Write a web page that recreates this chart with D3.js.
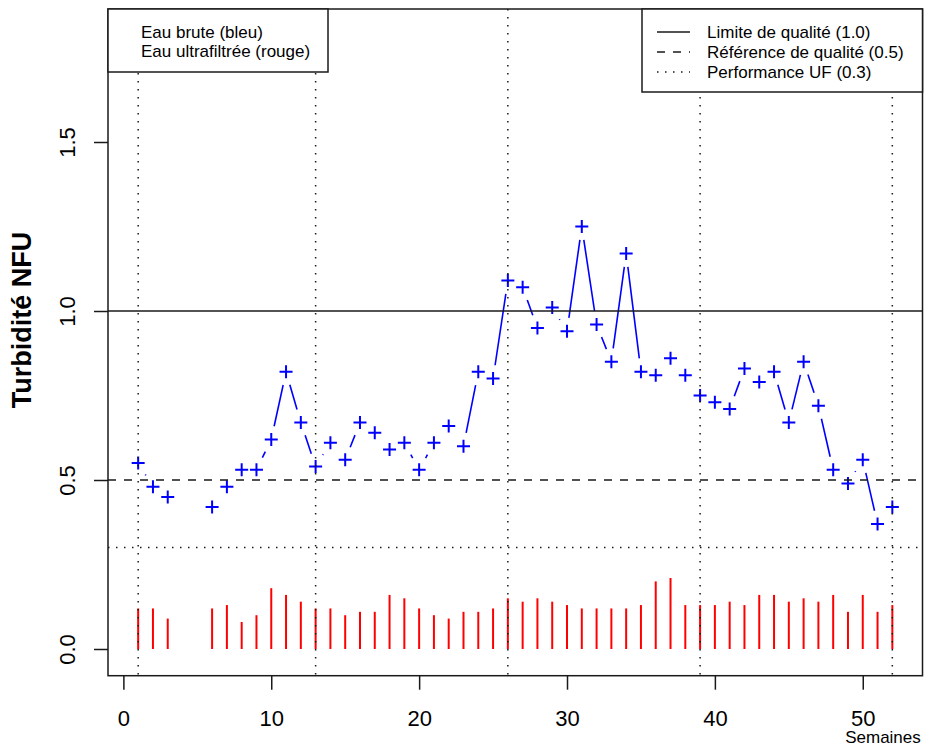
<!DOCTYPE html>
<html>
<head>
<meta charset="utf-8">
<script src="https://cdn.jsdelivr.net/npm/d3@7"></script>
<style>
  html, body { margin: 0; padding: 0; background: #fff; }
  svg { display: block; font-family: "Liberation Sans", Arial, Helvetica, sans-serif; }
</style>
</head>
<body>
<svg id="chart" width="933" height="746"></svg>
<script>
// ---- Data ----
const weeks = d3.range(1, 53);
const rawWater = [0.55, 0.48, 0.45, null, null, 0.42, 0.48, 0.53, 0.53, 0.62,
  0.82, 0.67, 0.54, 0.61, 0.56, 0.67, 0.64, 0.59, 0.61, 0.53,
  0.61, 0.66, 0.60, 0.82, 0.80, 1.09, 1.07, 0.95, 1.01, 0.94,
  1.25, 0.96, 0.85, 1.17, 0.82, 0.81, 0.86, 0.81, 0.75, 0.73,
  0.71, 0.83, 0.79, 0.82, 0.67, 0.85, 0.72, 0.53, 0.49, 0.56,
  0.37, 0.42];
const ufWater = [0.12, 0.12, 0.09, null, null, 0.12, 0.13, 0.08, 0.10, 0.18,
  0.16, 0.14, 0.12, 0.12, 0.10, 0.11, 0.11, 0.16, 0.15, 0.12,
  0.10, 0.09, 0.11, 0.11, 0.12, 0.15, 0.14, 0.15, 0.14, 0.13,
  0.12, 0.12, 0.12, 0.12, 0.13, 0.20, 0.21, 0.13, 0.13, 0.13,
  0.14, 0.13, 0.16, 0.16, 0.14, 0.15, 0.14, 0.16, 0.11, 0.16,
  0.11, 0.13];
const refValues = [1.0, 0.5, 0.3];
const refLabels = ["Limite de qualité (1.0)", "Référence de qualité (0.5)", "Performance UF (0.3)"];
const refDash = [null, "8,8", "1.5,6.5"];
const quarterWeeks = [1, 13, 26, 39, 52];
const xTicks = [0, 10, 20, 30, 40, 50];
const yTicks = [0.0, 0.5, 1.0, 1.5];
const seriesLabels = ["Eau brute (bleu)", "Eau ultrafiltrée (rouge)"];

// ---- Layout ----
const L = 108, R = 922.5, T = 9, B = 675.7;
const svg = d3.select("#chart");
const x = d3.scaleLinear().domain([-1.04, 54.04]).range([L, R]);
const y = d3.scaleLinear().domain([-0.079, 1.8935]).range([B, T]);
const ink = "#1a1a1a";
const ff = "Liberation Sans, Arial, Helvetica, sans-serif";

// Red vertical bars (type h)
const uf = weeks.map((w, i) => ({w, v: ufWater[i]})).filter(d => d.v != null);
svg.append("g").selectAll("line").data(uf).join("line")
  .attr("x1", d => x(d.w)).attr("x2", d => x(d.w))
  .attr("y1", y(0)).attr("y2", d => y(d.v))
  .attr("stroke", "#ff0000").attr("stroke-width", 2);

// Blue type "b": segments with gaps
const raw = weeks.map((w, i) => ({w, v: rawWater[i]}));
const gap = 13.5;
const segs = [];
for (let i = 0; i < raw.length - 1; i++) {
  const a = raw[i], b = raw[i + 1];
  if (a.v == null || b.v == null) continue;
  const x1 = x(a.w), y1 = y(a.v), x2 = x(b.w), y2 = y(b.v);
  const len = Math.hypot(x2 - x1, y2 - y1);
  if (len <= 2 * gap) continue;
  const ux = (x2 - x1) / len, uy = (y2 - y1) / len;
  segs.push({x1: x1 + ux * gap, y1: y1 + uy * gap, x2: x2 - ux * gap, y2: y2 - uy * gap});
}
svg.append("g").selectAll("line").data(segs).join("line")
  .attr("x1", d => d.x1).attr("y1", d => d.y1).attr("x2", d => d.x2).attr("y2", d => d.y2)
  .attr("stroke", "#0000ff").attr("stroke-width", 1.6);

const pts = raw.filter(d => d.v != null);
const s = 6.5;
svg.append("g").selectAll("path").data(pts).join("path")
  .attr("d", d => {
    const cx = x(d.w), cy = y(d.v);
    return `M${cx - s},${cy}H${cx + s}M${cx},${cy - s}V${cy + s}`;
  })
  .attr("stroke", "#0000ff").attr("stroke-width", 2).attr("fill", "none");

// Reference lines
svg.append("g").selectAll("line").data(refValues).join("line")
  .attr("x1", L).attr("x2", R)
  .attr("y1", d => y(d)).attr("y2", d => y(d))
  .attr("stroke", ink).attr("stroke-width", 1.5)
  .attr("stroke-dasharray", (d, i) => refDash[i]);

svg.append("g").selectAll("line").data(quarterWeeks).join("line")
  .attr("x1", d => x(d)).attr("x2", d => x(d))
  .attr("y1", T).attr("y2", B)
  .attr("stroke", ink).attr("stroke-width", 1.5)
  .attr("stroke-dasharray", "1.5,6.5");

// Axes
const xAxis = svg.append("g").attr("transform", `translate(0,${B})`)
  .call(d3.axisBottom(x).tickValues(xTicks).tickSize(14).tickFormat(d3.format("d")));
xAxis.select(".domain").remove();
xAxis.selectAll("line").attr("stroke", ink).attr("stroke-width", 1.5);
xAxis.selectAll("text").attr("y", 43).attr("dy", "0.35em")
  .attr("font-size", 22).attr("fill", "#000").attr("font-family", ff);

const yAxis = svg.append("g").attr("transform", `translate(${L},0)`)
  .call(d3.axisLeft(y).tickValues(yTicks).tickSize(14).tickFormat(d3.format(".1f")));
yAxis.select(".domain").remove();
yAxis.selectAll("line").attr("stroke", ink).attr("stroke-width", 1.5);
yAxis.selectAll("text").attr("x", 0).attr("dy", 0)
  .attr("transform", "translate(-33,0) rotate(-90)")
  .attr("text-anchor", "middle")
  .attr("font-size", 22).attr("fill", "#000").attr("font-family", ff);

// Box
svg.append("rect").attr("x", L).attr("y", T).attr("width", R - L).attr("height", B - T)
  .attr("fill", "none").attr("stroke", ink).attr("stroke-width", 1.5);

// Axis titles
svg.append("text").attr("transform", "translate(31,320) rotate(-90)")
  .attr("text-anchor", "middle").attr("font-size", 27).attr("font-weight", "bold")
  .text("Turbidité NFU");
svg.append("text").attr("x", 883).attr("y", 742.5).attr("text-anchor", "middle")
  .attr("font-size", 17).text("Semaines");

// Left legend
const lg = svg.append("g");
lg.append("rect").attr("x", L).attr("y", T).attr("width", 220).attr("height", 63)
  .attr("fill", "#fff").attr("stroke", ink).attr("stroke-width", 1.5);
lg.selectAll("text").data(seriesLabels).join("text")
  .attr("x", 141).attr("y", (d, i) => 38 + i * 18.5)
  .attr("font-size", 17).text(d => d);

// Right legend
const rg = svg.append("g");
rg.append("rect").attr("x", 642).attr("y", T).attr("width", R - 642).attr("height", 83)
  .attr("fill", "#fff").attr("stroke", ink).attr("stroke-width", 1.5);
rg.selectAll("line").data(refLabels).join("line")
  .attr("x1", 657).attr("x2", 690)
  .attr("y1", (d, i) => 32 + i * 20).attr("y2", (d, i) => 32 + i * 20)
  .attr("stroke", ink).attr("stroke-width", 1.5)
  .attr("stroke-dasharray", (d, i) => refDash[i]);
rg.selectAll("text").data(refLabels).join("text")
  .attr("x", 707).attr("y", (d, i) => 38 + i * 20)
  .attr("font-size", 17).text(d => d);
</script>
</body>
</html>
